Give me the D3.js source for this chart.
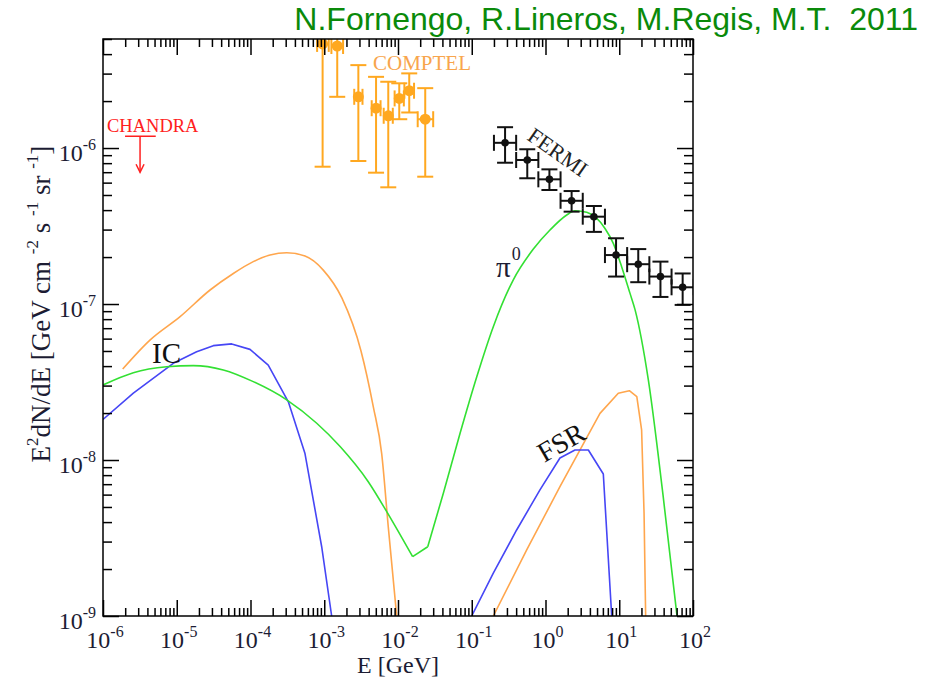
<!DOCTYPE html>
<html>
<head>
<meta charset="utf-8">
<script src="https://cdn.jsdelivr.net/npm/d3@7"></script>
<style>
  body { margin: 0; background: #fff; }
  svg { display: block; }
  text { white-space: pre; }
</style>
</head>
<body>
<div id="chart"></div>
<script>
// ---- data (E in GeV, E^2 dN/dE in GeV cm^-2 s^-1 sr^-1) ----
// IC, orange model
const icOrangeE = [1.85e-6, 4.33e-6, 1.11e-5, 2.83e-5, 5.85e-5, 1.09e-4, 1.84e-4, 3.10e-4, 5.48e-4, 9.7e-4, 1.74e-3, 3.15e-3, 4.62e-3, 6.01e-3, 7.38e-3, 9.6e-3];
const icOrangeF = [3.83e-8, 5.87e-8, 8.3e-8, 1.23e-7, 1.57e-7, 1.87e-7, 2.06e-7, 2.13e-7, 2.03e-7, 1.65e-7, 1.09e-7, 5.0e-8, 2.2e-8, 1.10e-8, 3.73e-9, 1.0e-9];
// IC, blue model
const icBlueE = [1e-6, 2.58e-6, 8.97e-6, 1.86e-5, 3.13e-5, 5.56e-5, 9.84e-5, 1.74e-4, 3.26e-4, 5.48e-4, 9.23e-4, 1.26e-3];
const icBlueF = [1.82e-8, 2.68e-8, 4.17e-8, 4.94e-8, 5.41e-8, 5.55e-8, 5.12e-8, 4.06e-8, 2.36e-8, 1.10e-8, 2.78e-9, 1.0e-9];
// pi0 (green)
const pi0E = [1e-6, 2.58e-6, 7.31e-6, 1.68e-5, 4.28e-5, 1.09e-4, 3.10e-4, 7.91e-4, 1.64e-3, 3.95e-3, 7.03e-3, 1.58e-2, 2.53e-2, 4.11e-2, 6.93e-2, 0.117, 0.196, 0.366, 0.684, 1.15, 1.94, 2.51, 3.62, 6.41, 8.30, 10.8, 14.0, 16.4, 24.8, 39.2, 60.7];
const pi0F = [3.03e-8, 3.63e-8, 3.96e-8, 4.03e-8, 3.78e-8, 3.18e-8, 2.43e-8, 1.72e-8, 1.22e-8, 7.26e-9, 4.67e-9, 2.40e-9, 2.78e-9, 6.1e-9, 1.48e-8, 3.42e-8, 7.16e-8, 1.43e-7, 2.25e-7, 2.98e-7, 3.72e-7, 3.96e-7, 3.87e-7, 3.05e-7, 2.45e-7, 1.73e-7, 1.17e-7, 9.17e-8, 3.26e-8, 5.97e-9, 1.0e-9];
// FSR, blue model
const fsrBlueE = [0.0998, 0.196, 0.406, 0.841, 1.57, 2.51, 3.81, 6.08, 7.9];
const fsrBlueF = [1e-9, 1.88e-9, 3.56e-9, 6.43e-9, 1.03e-8, 1.16e-8, 1.16e-8, 8.13e-9, 1e-9];
// FSR, orange model
const fsrOrangeE = [0.196, 0.556, 1.57, 2.94, 5.48, 9.70, 13.7, 17.3, 20.1, 21.7, 22.8];
const fsrOrangeF = [1e-9, 2.65e-9, 6.75e-9, 1.16e-8, 1.99e-8, 2.68e-8, 2.78e-8, 2.55e-8, 1.56e-8, 4.55e-9, 1e-9];

// COMPTEL points
const comptelE   = [9.5e-4, 1.50e-3, 2.90e-3, 5.04e-3, 7.38e-3, 1.04e-2, 1.42e-2, 2.34e-2];
const comptelElo = [8.0e-4, 1.25e-3, 2.55e-3, 4.4e-3, 6.4e-3, 9.0e-3, 1.22e-2, 1.85e-2];
const comptelEhi = [1.15e-3, 1.8e-3, 3.3e-3, 5.8e-3, 8.5e-3, 1.2e-2, 1.65e-2, 3.0e-2];
const comptelF   = [4.65e-6, 4.51e-6, 2.13e-6, 1.80e-6, 1.61e-6, 2.08e-6, 2.33e-6, 1.53e-6];
const comptelLo  = [7.59e-7, 2.13e-6, 8.26e-7, 6.95e-7, 5.60e-7, 1.53e-6, 1.69e-6, 6.55e-7];
const comptelHi  = [1.0e-5, 7.0e-6, 3.40e-6, 2.86e-6, 2.66e-6, 2.60e-6, 3.01e-6, 2.42e-6];

// FERMI points
const fermiE   = [0.283, 0.566, 1.13, 2.26, 4.53, 9.05, 18.1, 36.2, 72.4];
const fermiElo = [0.2, 0.4, 0.8, 1.6, 3.2, 6.4, 12.8, 25.6, 51.2];
const fermiEhi = [0.4, 0.8, 1.6, 3.2, 6.4, 12.8, 25.6, 51.2, 102.4];
const fermiF   = [1.08e-6, 8.38e-7, 6.30e-7, 4.59e-7, 3.63e-7, 2.06e-7, 1.80e-7, 1.50e-7, 1.28e-7];
const fermiLo  = [8.05e-7, 6.40e-7, 5.38e-7, 3.91e-7, 2.90e-7, 1.50e-7, 1.38e-7, 1.11e-7, 9.87e-8];
const fermiHi  = [1.36e-6, 9.82e-7, 7.30e-7, 5.30e-7, 4.25e-7, 2.64e-7, 2.25e-7, 1.87e-7, 1.57e-7];

// CHANDRA upper limit
const chandraE = 3.18e-6, chandraElo = 1.99e-6, chandraEhi = 5.19e-6, chandraUL = 1.19e-6;

const xDecades = [-6, -5, -4, -3, -2, -1, 0, 1, 2];
const yDecades = [-9, -8, -7, -6];

// ---- layout ----
const width = 942, height = 681;
const margin = { top: 39, right: 249, bottom: 65, left: 103 };
const plotW = width - margin.left - margin.right;
const plotH = height - margin.top - margin.bottom;

const svg = d3.select("#chart").append("svg")
  .attr("width", width)
  .attr("height", height);

const x = d3.scaleLog().domain([1e-6, 1e2]).range([margin.left, margin.left + plotW]);
const y = d3.scaleLog().domain([1e-9, 5e-6]).range([margin.top + plotH, margin.top]);

svg.append("defs").append("clipPath").attr("id", "plotclip")
  .append("rect")
  .attr("x", margin.left).attr("y", margin.top)
  .attr("width", plotW).attr("height", plotH);

const plot = svg.append("g").attr("clip-path", "url(#plotclip)");

// curves
const straight = d3.line().x(d => x(d[0])).y(d => y(d[1]));
const smooth = d3.line().x(d => x(d[0])).y(d => y(d[1])).curve(d3.curveMonotoneX);
function drawCurve(pts, color, gen) {
  plot.append("path")
    .datum(pts)
    .attr("fill", "none")
    .attr("stroke", color)
    .attr("stroke-width", 1.6)
    .attr("stroke-linejoin", "round")
    .attr("d", gen);
}
const orange = "#ffa64d", blue = "#4646f5", green = "#33e033";
drawCurve(d3.zip(icOrangeE, icOrangeF), orange, smooth);
drawCurve(d3.zip(icBlueE, icBlueF), blue, straight);
// pi0: smooth on each side of the sharp dip near 2e-2 GeV
const pi0 = d3.zip(pi0E, pi0F);
drawCurve(pi0.slice(0, 12), green, smooth);
drawCurve(pi0.slice(11, 13), green, straight);
drawCurve(pi0.slice(12), green, smooth);
drawCurve(d3.zip(fsrOrangeE, fsrOrangeF), orange, straight);
drawCurve(d3.zip(fsrBlueE, fsrBlueF), blue, straight);

// error bar points
function drawPoints(E, Elo, Ehi, F, Lo, Hi, color, r, cap) {
  const g = plot.append("g").attr("stroke", color).attr("stroke-width", 2).attr("fill", color);
  E.forEach((e, i) => {
    const cx = x(e), cy = y(F[i]);
    const x0 = x(Elo[i]), x1 = x(Ehi[i]);
    const y0 = y(Lo[i]), y1 = y(Hi[i]);
    g.append("line").attr("x1", cx).attr("x2", cx).attr("y1", y0).attr("y2", y1);
    g.append("line").attr("x1", cx - cap).attr("x2", cx + cap).attr("y1", y0).attr("y2", y0);
    g.append("line").attr("x1", cx - cap).attr("x2", cx + cap).attr("y1", y1).attr("y2", y1);
    g.append("line").attr("x1", x0).attr("x2", x1).attr("y1", cy).attr("y2", cy);
    g.append("line").attr("x1", x0).attr("x2", x0).attr("y1", cy - cap).attr("y2", cy + cap);
    g.append("line").attr("x1", x1).attr("x2", x1).attr("y1", cy - cap).attr("y2", cy + cap);
    g.append("circle").attr("cx", cx).attr("cy", cy).attr("r", r).attr("stroke", "none");
  });
}
drawPoints(comptelE, comptelElo, comptelEhi, comptelF, comptelLo, comptelHi, "#ffa820", 5.5, 8);
drawPoints(fermiE, fermiElo, fermiEhi, fermiF, fermiLo, fermiHi, "#111", 3.8, 8);

// CHANDRA upper limit arrow
const ch = svg.append("g").attr("stroke", "#ff2020").attr("stroke-width", 1.5).attr("fill", "none");
ch.append("line").attr("x1", x(chandraElo)).attr("x2", x(chandraEhi))
  .attr("y1", y(chandraUL)).attr("y2", y(chandraUL));
ch.append("line").attr("x1", x(chandraE)).attr("x2", x(chandraE))
  .attr("y1", y(chandraUL)).attr("y2", y(chandraUL) + 36);
ch.append("path")
  .attr("d", `M${x(chandraE) - 4},${y(chandraUL) + 28}L${x(chandraE)},${y(chandraUL) + 36}L${x(chandraE) + 4},${y(chandraUL) + 28}`);

// ---- frame and ticks ----
const isMajor = v => Math.abs(Math.log10(v) - Math.round(Math.log10(v))) < 1e-6;
const xt = x.ticks();
const yt = y.ticks();
const xMinor = xt.filter(v => !isMajor(v)), xMajor = xt.filter(isMajor);
const yMinor = yt.filter(v => !isMajor(v)), yMajor = yt.filter(isMajor);

function tickAxis(axisFn, scale, tx, ty, vals, len) {
  svg.append("g")
    .attr("transform", `translate(${tx},${ty})`)
    .call(axisFn(scale).tickValues(vals).tickSize(-len).tickSizeOuter(0).tickFormat(""))
    .call(g => g.select(".domain").remove())
    .call(g => g.selectAll(".tick line").attr("stroke", "#000").attr("stroke-width", 1.5));
}
const bottomY = margin.top + plotH, rightX = margin.left + plotW;
tickAxis(d3.axisBottom, x, 0, bottomY, xMinor, 8);
tickAxis(d3.axisBottom, x, 0, bottomY, xMajor, 16);
tickAxis(d3.axisTop, x, 0, margin.top, xMinor, 8);
tickAxis(d3.axisTop, x, 0, margin.top, xMajor, 16);
tickAxis(d3.axisLeft, y, margin.left, 0, yMinor, 9);
tickAxis(d3.axisLeft, y, margin.left, 0, yMajor, 16);
tickAxis(d3.axisRight, y, rightX, 0, yMinor, 9);
tickAxis(d3.axisRight, y, rightX, 0, yMajor, 16);

svg.append("rect")
  .attr("x", margin.left).attr("y", margin.top)
  .attr("width", plotW).attr("height", plotH)
  .attr("fill", "none").attr("stroke", "#000").attr("stroke-width", 1.5);

// tick labels: 10^n
const serif = "'Liberation Serif', 'Times New Roman', serif";
const labelColor = "#1c1c33";
xDecades.forEach(k => {
  const t = svg.append("text")
    .attr("x", x(Math.pow(10, k)) + 2).attr("y", 648)
    .attr("text-anchor", "middle")
    .attr("font-family", serif).attr("font-size", 24).attr("fill", labelColor);
  t.append("tspan").text("10");
  t.append("tspan").attr("dy", -11).attr("font-size", 16).text(k);
});
yDecades.forEach(k => {
  const t = svg.append("text")
    .attr("x", 96).attr("y", y(Math.pow(10, k)) + 13)
    .attr("text-anchor", "end")
    .attr("font-family", serif).attr("font-size", 24).attr("fill", labelColor);
  t.append("tspan").text("10");
  t.append("tspan").attr("dy", -11).attr("font-size", 16).text(k);
});

// axis titles
svg.append("text")
  .attr("x", margin.left + plotW / 2).attr("y", 673)
  .attr("text-anchor", "middle")
  .attr("font-family", serif).attr("font-size", 24).attr("fill", labelColor)
  .text("E [GeV]");

const yt0 = svg.append("text")
  .attr("transform", "translate(50,304) rotate(-90)")
  .attr("text-anchor", "middle")
  .attr("font-family", serif).attr("font-size", 27).attr("fill", labelColor);
const ySup = (txt) => { yt0.append("tspan").attr("dy", -12).attr("font-size", 17).text(txt); };
const yNorm = (txt) => { yt0.append("tspan").attr("dy", 12).text(txt); };
yt0.append("tspan").text("E");
ySup("2");
yNorm("dN/dE [GeV cm ");
ySup("-2");
yNorm(" s ");
ySup("-1");
yNorm(" sr ");
ySup("-1");
yNorm("]");

// annotations
svg.append("text")
  .attr("x", 107).attr("y", 132)
  .attr("font-family", serif).attr("font-size", 18.5).attr("fill", "#ff2020")
  .text("CHANDRA");
svg.append("text")
  .attr("x", 373).attr("y", 70)
  .attr("font-family", serif).attr("font-size", 21).attr("fill", "#f8a54c")
  .text("COMPTEL");
svg.append("text")
  .attr("transform", "translate(558,152) rotate(35)")
  .attr("text-anchor", "middle").attr("dy", "0.35em")
  .attr("font-family", serif).attr("font-size", 22).attr("fill", "#222")
  .text("FERMI");
svg.append("text")
  .attr("transform", "translate(561,442) rotate(-30)")
  .attr("text-anchor", "middle").attr("dy", "0.35em")
  .attr("font-family", serif).attr("font-size", 28).attr("fill", "#111")
  .text("FSR");
svg.append("text")
  .attr("x", 152).attr("y", 363)
  .attr("font-family", serif).attr("font-size", 29).attr("fill", "#111")
  .text("IC");
const pi = svg.append("text")
  .attr("x", 496).attr("y", 277)
  .attr("font-family", serif).attr("font-size", 29).attr("fill", "#1c1c33");
pi.append("tspan").text("π");
pi.append("tspan").attr("dx", 1).attr("dy", -17).attr("font-size", 18).text("0");

// credit line
svg.append("text")
  .attr("x", 918).attr("y", 30)
  .attr("text-anchor", "end")
  .attr("font-family", "'Liberation Sans', Arial, sans-serif")
  .attr("font-size", 32).attr("fill", "#0a8a0a")
  .text("N.Fornengo, R.Lineros, M.Regis, M.T.  2011");
</script>
</body>
</html>
